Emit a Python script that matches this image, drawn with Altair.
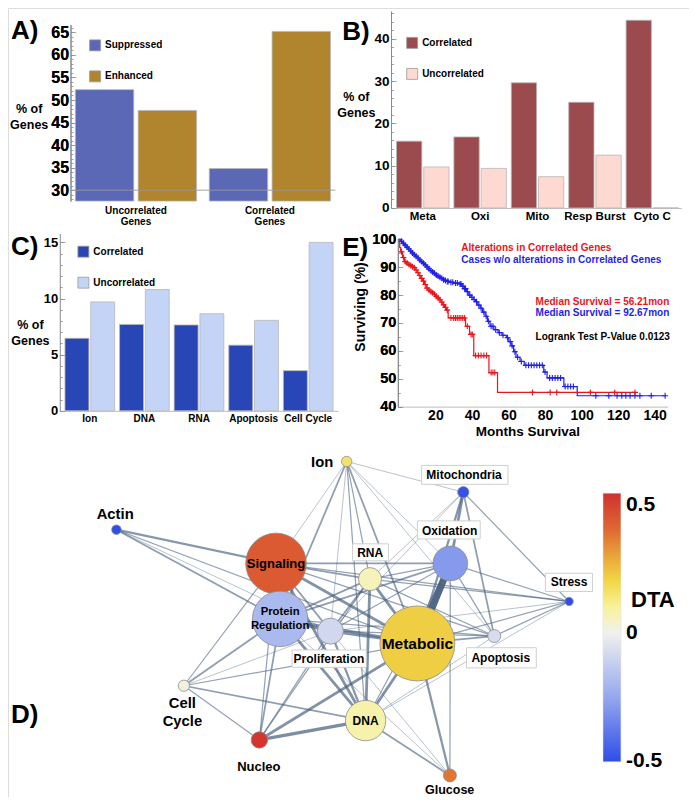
import math
import altair as alt
import pandas as pd

W, H = 681, 789
KX, KY = W / 697, H / 805
FONT = "Liberation Sans"


def X(v):
    return round(v * KX, 2)


def Y(v):
    return round(v * KY, 2)


# ---------------- data ----------------
a_groups = ["Uncorrelated Genes", "Correlated Genes"]
a_kinds = ["Suppressed", "Enhanced"]
a_suppressed = [52.3, 34.8]
a_enhanced = [47.7, 65.2]

b_groups = ["Meta", "Oxi", "Mito", "Resp Burst", "Cyto C"]
b_kinds = ["Correlated", "Uncorrelated"]
b_correlated = [15.8, 16.8, 29.6, 25.0, 44.4]
b_uncorrelated = [9.7, 9.35, 7.4, 12.5, 0.0]

c_groups = ["Ion", "DNA", "RNA", "Apoptosis", "Cell Cycle"]
c_kinds = ["Correlated", "Uncorrelated"]
c_correlated = [6.46, 7.7, 7.65, 5.85, 3.58]
c_uncorrelated = [9.7, 10.8, 8.65, 8.06, 15.0]

# Kaplan-Meier curves (months, % surviving)
red_t = [0, 0.5, 1, 2, 3, 4, 5, 6, 7, 8, 9, 10, 11, 12, 13, 14, 15, 16, 17, 18, 19, 20,
         21, 22, 23, 24, 25, 26, 27, 36.5, 38.7, 41, 49.3, 54, 129.2]
red_s = [100, 97, 95.5, 93.5, 92, 91.5, 91, 90.6, 90.2, 89.8, 89, 88, 87, 86, 85, 83.8,
         82.5, 81.8, 81.3, 80.8, 80.3, 79.6, 79, 78.3, 77.5, 76.5, 75.6, 74.6, 71.8,
         68.8, 65.9, 58.3, 52.2, 45.1, 45.1]
red_cens = [1.5, 2.5, 3.5, 4.5, 5.5, 6.5, 7.5, 8.5, 9.5, 10.5, 11.5, 12.5, 13.5, 14.5,
            15.5, 16.5, 17.5, 18.5, 19.5, 20.5, 21.5, 22.5, 23.5, 24.5, 25.5, 26.5, 28.5,
            30, 31, 32, 33, 34, 35, 36, 37.5, 39.5, 40.2, 42, 43.5, 45, 46.5, 48, 50.5,
            51.5, 52.5, 73.1, 82.8, 86.4, 104.8, 118.1, 129.2]
blue_t = [0, 1, 2, 3, 4, 5, 6, 7, 8, 9, 10, 11, 12, 13, 14, 15, 16, 17, 18, 19, 20, 21,
          22, 23, 24, 25, 26, 27.6, 30, 33, 34.5, 35.6, 37, 38.3, 39.5, 40.7, 41.9, 43.2,
          44.5, 45.8, 47.2, 48.5, 49.9, 52, 54.3, 56.5, 58.8, 60.2, 61.5, 62.8, 64.1,
          66.3, 68.6, 79.3, 81.1, 90.3, 97.6, 145.7]
blue_s = [100, 99.3, 98.6, 97.9, 97.2, 96.5, 95.8, 95.1, 94.5, 93.9, 93.3, 92.6, 92,
          91.4, 90.8, 90.1, 89.4, 88.8, 88.3, 87.8, 87.2, 86.8, 86.4, 86, 85.5, 85.2,
          84.9, 84.6, 84.3, 84, 83.2, 82.3, 81.2, 80, 79.2, 78.4, 77.6, 76.4, 75.3, 73.9,
          72.4, 70.6, 68.8, 67.6, 66.5, 65.6, 64.7, 63.3, 61.8, 59.7, 57.7, 56.2, 54.8,
          52.4, 50.3, 47.2, 43.9, 43.9]
blue_cens = [1.5, 2.5, 3.5, 4.5, 5.5, 6.5, 7.5, 8.5, 9.5, 10.5, 11.5, 12.5, 13.5, 14.5,
             15.5, 16.5, 17.5, 18.5, 19.5, 20.5, 21.5, 22.5, 23.5, 24.5, 25.5, 26.5, 27,
             28.5, 29.5, 31, 32, 33.5, 34, 35, 36, 36.5, 37.5, 38.8, 40, 41.2, 42.5, 43.8,
             45, 46.5, 47.8, 49, 50.5, 51.5, 53, 55, 57, 59.5, 61, 62, 63.5, 65, 67, 69.5,
             71, 72.5, 74, 75.5, 77, 78.5, 80, 82.5, 84, 85.5, 87, 88.5, 91, 92.5, 94,
             95.5, 107.8, 114.9, 119.4, 122, 124.2, 126.5, 129.2, 131.9, 138.1, 145.7]

# Network (positions in figure pixel space)
node_names = ["Ion", "Actin", "Signaling", "Protein Regulation", "RNA", "Mitochondria",
              "Oxidation", "Stress", "Metabolic", "Apoptosis", "Proliferation",
              "Cell Cycle", "Nucleo", "DNA", "Glucose"]
node_x = [346.7, 111, 274.3, 278.5, 370.5, 466, 452.7, 574.3, 419, 497.7, 330, 180,
          257.3, 366, 452.3]
node_y = [462.7, 532.3, 566.7, 623.3, 582.7, 494, 566.7, 605.5, 648.3, 640.8, 635.8,
          691.5, 746.8, 727, 783]
node_r = [6, 5.5, 35, 32, 13.3, 6.5, 20, 4.8, 43.3, 7.5, 15, 6.5, 9.5, 23.3, 7.5]
node_dta = [0.16, -0.5, 0.44, -0.19, 0.06, -0.49, -0.29, -0.5, 0.22, -0.07, -0.09,
            0.02, 0.53, 0.08, 0.38]

edges = [
    ("Ion", "Signaling", 1), ("Ion", "Protein Regulation", 2), ("Ion", "RNA", 1.5),
    ("Ion", "Proliferation", 1), ("Ion", "Metabolic", 2), ("Ion", "Oxidation", 1),
    ("Ion", "Mitochondria", 1), ("Ion", "Apoptosis", 1), ("Ion", "DNA", 1.5),
    ("Actin", "Signaling", 2.5), ("Actin", "Protein Regulation", 2),
    ("Actin", "Proliferation", 1), ("Actin", "Metabolic", 1.5),
    ("Signaling", "RNA", 2), ("Signaling", "Oxidation", 2), ("Signaling", "Metabolic", 3),
    ("Signaling", "Proliferation", 2), ("Signaling", "DNA", 3),
    ("Signaling", "Apoptosis", 1.5), ("Signaling", "Stress", 1.5),
    ("Signaling", "Cell Cycle", 1.5), ("Signaling", "Nucleo", 1.5),
    ("Protein Regulation", "RNA", 2), ("Protein Regulation", "Oxidation", 2),
    ("Protein Regulation", "Metabolic", 3), ("Protein Regulation", "Proliferation", 3.5),
    ("Protein Regulation", "DNA", 3), ("Protein Regulation", "Apoptosis", 1.5),
    ("Protein Regulation", "Cell Cycle", 2), ("Protein Regulation", "Nucleo", 2),
    ("Protein Regulation", "Glucose", 1),
    ("RNA", "Metabolic", 3), ("RNA", "Oxidation", 1.5), ("RNA", "Mitochondria", 1),
    ("RNA", "DNA", 3), ("RNA", "Proliferation", 2), ("RNA", "Apoptosis", 1.5),
    ("RNA", "Stress", 1.5), ("RNA", "Nucleo", 1.5),
    ("Mitochondria", "Oxidation", 3), ("Mitochondria", "Metabolic", 2.5),
    ("Mitochondria", "Stress", 1.5), ("Mitochondria", "Apoptosis", 2),
    ("Mitochondria", "Proliferation", 1),
    ("Oxidation", "Metabolic", 7), ("Oxidation", "Apoptosis", 1.5),
    ("Oxidation", "Stress", 1.5), ("Oxidation", "Glucose", 1.5), ("Oxidation", "DNA", 1.5),
    ("Oxidation", "Proliferation", 1.5),
    ("Stress", "Metabolic", 1.5), ("Stress", "Apoptosis", 1.5), ("Stress", "DNA", 1),
    ("Stress", "Proliferation", 1),
    ("Metabolic", "Apoptosis", 2), ("Metabolic", "Proliferation", 3),
    ("Metabolic", "DNA", 3), ("Metabolic", "Nucleo", 3), ("Metabolic", "Glucose", 2.5),
    ("Metabolic", "Cell Cycle", 1.5),
    ("Apoptosis", "DNA", 1), ("Apoptosis", "Proliferation", 1.5),
    ("Proliferation", "DNA", 2.5), ("Proliferation", "Nucleo", 1.5),
    ("Proliferation", "Cell Cycle", 1), ("Proliferation", "Glucose", 1),
    ("Cell Cycle", "Nucleo", 1.5), ("Cell Cycle", "DNA", 2),
    ("Nucleo", "DNA", 3.5), ("DNA", "Glucose", 2),
]

dta_stops = [-0.503, -0.25, 0, 0.1, 0.2, 0.3, 0.4, 0.545]
dta_colors = ["#2e4de6", "#95a8ee", "#f1f1ee", "#f8f29a", "#f1d846", "#eaa43a",
              "#df6a33", "#d0302f"]

RED = "#e8161c"
BLUE = "#1f1fe6"

# ---------------- helpers ----------------
NX = alt.Scale(domain=[0, 697], range=[0, W], nice=False, zero=False)
NY = alt.Scale(domain=[0, 805], range=[0, H], nice=False, zero=False)


def y_axis(ax_x, values, fs):
    return alt.Axis(orient="left", offset=-X(ax_x), values=values, title=None,
                    labelFontSize=fs, labelPadding=2, ticks=False, grid=False,
                    domainColor="#8a8a8a", labelFont=FONT, labelFontWeight="bold",
                    labelColor="black")


def x_axis(ax_y, fs, **kw):
    return alt.Axis(orient="bottom", offset=Y(ax_y) - H, title=None, labelFontSize=fs,
                    labelAngle=0, ticks=False, grid=False, domainColor="#bdbdbd",
                    labelFont=FONT, labelFontWeight="bold", labelColor="black", **kw)


def inner_ticks(df, field, ysc, ax_x, values, size):
    """Inward-pointing ticks drawn as an unlabeled right-oriented axis."""
    return alt.Chart(df).mark_point(opacity=0).encode(
        y=alt.Y(f"{field}:Q", scale=ysc,
                axis=alt.Axis(orient="right", offset=X(ax_x) - W, values=values,
                              labels=False, domain=False, tickSize=size,
                              tickColor="#8a8a8a", tickWidth=0.8, grid=False,
                              title=None)))


def sym_legend(lx, ly):
    return alt.Legend(orient="none", legendX=X(lx), legendY=Y(ly), title=None,
                      symbolType="square", symbolSize=120, symbolStrokeColor="#9a9a9a",
                      symbolStrokeWidth=0.8, symbolOpacity=1, labelFontSize=10,
                      labelFont=FONT, labelFontWeight="bold", labelColor="black",
                      labelOffset=4, rowPadding=15, padding=0)


def bar_panel(groups, kinds, v1, v2, colors, xr, pin, pout, ax_y, xfs, ax_x, ydom,
              ytop, yvals, yfs, minor_vals, legend_at, x_axis_kw, extra=()):
    df = pd.DataFrame({
        "group": groups * 2,
        "kind": [kinds[0]] * len(groups) + [kinds[1]] * len(groups),
        "value": v1 + v2,
    })
    ysc = alt.Scale(domain=ydom, range=[Y(ax_y), Y(ytop)], nice=False, zero=False)
    yax = y_axis(ax_x, yvals, yfs)
    bars = alt.Chart(df).mark_bar(stroke="#b8b8b8", strokeWidth=0.8).encode(
        x=alt.X("group:N", sort=groups,
                scale=alt.Scale(range=[X(xr[0]), X(xr[1])], paddingInner=pin,
                                paddingOuter=pout),
                axis=x_axis(ax_y, xfs, **x_axis_kw)),
        xOffset=alt.XOffset("kind:N", sort=kinds, scale=alt.Scale(paddingInner=0.07)),
        y=alt.Y("value:Q", scale=ysc, axis=yax),
        y2=alt.datum(ydom[0]),
        color=alt.Color("kind:N", sort=kinds, scale=alt.Scale(domain=kinds, range=colors),
                        legend=sym_legend(*legend_at)),
    )
    layers = [bars]
    for make in extra:
        layers.append(make(ysc, yax))
    layers.append(inner_ticks(df, "value", ysc, ax_x, yvals, 5))
    layers.append(inner_ticks(df, "value", ysc, ax_x, minor_vals, 2.5))
    return alt.layer(*layers).resolve_axis(y="independent")


def texts(labels, xs_, ys_, size, color="black", align="center", baseline="middle",
          angle=None, line_height=None):
    df = pd.DataFrame({"label": labels, "x": xs_, "y": ys_})
    mk = dict(fontSize=size, color=color, align=align, baseline=baseline,
              fontWeight="bold", font=FONT, lineBreak="\n")
    if angle is not None:
        mk["angle"] = angle
    if line_height is not None:
        mk["lineHeight"] = line_height
    return alt.Chart(df).mark_text(**mk).encode(
        x=alt.X("x:Q", scale=NX, axis=None),
        y=alt.Y("y:Q", scale=NY, axis=None),
        text="label:N",
    )


# ---------------- panel A ----------------
def rule30(ysc, yax):
    return alt.Chart(pd.DataFrame({"level": [30]})).mark_rule(
        color="#9a9a9a", strokeWidth=1.5, opacity=0.6).encode(
        y=alt.Y("level:Q", scale=ysc, axis=yax),
        x=alt.value(X(64)), x2=alt.value(X(335)))


panelA = bar_panel(
    a_groups, a_kinds, a_suppressed, a_enhanced, ["#5a68b6", "#b0852d"],
    (64, 335), 0.095, 0.036, 197, 10, 64, [27.6, 66.7], 17,
    [30, 35, 40, 45, 50, 55, 60, 65], 16, list(range(28, 67)), (83, 32),
    dict(domain=False, labelExpr="split(datum.label, ' ')", labelLineHeight=11.5,
         labelPadding=4), extra=(rule30,))

# ---------------- panel B ----------------
panelB = bar_panel(
    b_groups, b_kinds, b_correlated, b_uncorrelated, ["#9b4b4d", "#fdd9d1"],
    (395, 689), 0.085, 0.045, 204, 11.5, 392, [0, 46.6], 3,
    [0, 10, 20, 30, 40], 13.5, list(range(0, 47, 2)), (407.5, 29.5),
    dict(labelPadding=3))

# ---------------- panel C ----------------
panelC = bar_panel(
    c_groups, c_kinds, c_correlated, c_uncorrelated, ["#2946b6", "#c3d4f7"],
    (53, 338), 0.09, 0.095, 411, 10, 53, [0, 15.8], 230,
    [0, 5, 10, 15], 13, list(range(0, 16)), (71, 242.5), dict(labelPadding=3))


# ---------------- panel E ----------------
def step_at(ts, ss, t):
    val = ss[0]
    for ti, si in zip(ts, ss):
        if ti <= t:
            val = si
    return val


dfE = pd.concat([
    pd.DataFrame({"t": blue_t, "s": blue_s, "series": "without"}),
    pd.DataFrame({"t": red_t, "s": red_s, "series": "altered"}),
])
dfCens = pd.concat([
    pd.DataFrame({"t": blue_cens, "s": [step_at(blue_t, blue_s, t) for t in blue_cens],
                  "series": "without"}),
    pd.DataFrame({"t": red_cens, "s": [step_at(red_t, red_s, t) for t in red_cens],
                  "series": "altered"}),
])
xsE = alt.Scale(domain=[0, 147], range=[X(400), X(675)], nice=False, zero=False)
ysE = alt.Scale(domain=[40, 100.35], range=[Y(406.7), Y(235)], nice=False, zero=False)
xaxE = x_axis(406.7, 14, values=[20, 40, 60, 80, 100, 120, 140], labelPadding=2)
yaxE = y_axis(399, [40, 50, 60, 70, 80, 90, 100], 14.5)
colE = alt.Color("series:N", scale=alt.Scale(domain=["without", "altered"],
                                             range=[BLUE, RED]), legend=None)
linesE = alt.Chart(dfE).mark_line(interpolate="step-after", strokeWidth=1.2).encode(
    x=alt.X("t:Q", scale=xsE, axis=xaxE),
    y=alt.Y("s:Q", scale=ysE, axis=yaxE),
    color=colE,
)
censE = alt.Chart(dfCens).mark_point(
    shape="M-1,0L1,0M0,-1L0,1", filled=False, strokeWidth=1.1, size=36, opacity=1).encode(
    x=alt.X("t:Q", scale=xsE, axis=xaxE),
    y=alt.Y("s:Q", scale=ysE, axis=yaxE),
    color=colE,
)
panelE = alt.layer(
    linesE, censE,
    inner_ticks(dfE, "s", ysE, 399, [40, 50, 60, 70, 80, 90, 100], 5),
    inner_ticks(dfE, "s", ysE, 399, list(range(40, 101, 5)), 2.5),
).resolve_axis(y="independent")

# ---------------- panel D (network) ----------------
pos = dict(zip(node_names, zip(node_x, node_y)))
edge_df = pd.DataFrame({
    "x": [pos[a][0] for a, b, w in edges],
    "y": [pos[a][1] for a, b, w in edges],
    "x2": [pos[b][0] for a, b, w in edges],
    "y2": [pos[b][1] for a, b, w in edges],
    "w": [w for a, b, w in edges],
}).sort_values("w")

edges_ch = alt.Chart(edge_df).mark_rule(color="#48607f").encode(
    x=alt.X("x:Q", scale=NX, axis=None),
    y=alt.Y("y:Q", scale=NY, axis=None),
    x2="x2:Q", y2="y2:Q",
    strokeWidth=alt.StrokeWidth("w:Q", scale=alt.Scale(domain=[1, 7], range=[0.7, 7]),
                                legend=None),
    opacity=alt.Opacity("w:Q", scale=alt.Scale(domain=[1, 7], range=[0.55, 0.95]),
                        legend=None),
)

box_labels = ["RNA", "Mitochondria", "Oxidation", "Stress", "Apoptosis", "Proliferation"]
box_x1 = [352.7, 423.3, 419, 550, 469.3, 290.7]
box_x2 = [389.3, 511.7, 483.3, 598.3, 540.7, 366.7]
box_y1 = [546.7, 466.7, 523.3, 576.7, 652.7, 655]
box_y2 = [564, 486, 541.7, 595.3, 673.3, 672.7]
boxes = alt.Chart(pd.DataFrame({"x": box_x1, "x2": box_x2, "y": box_y1, "y2": box_y2})
                  ).mark_rect(fill="white", stroke="#cfcfcf", strokeWidth=1).encode(
    x=alt.X("x:Q", scale=NX, axis=None), x2="x2:Q",
    y=alt.Y("y:Q", scale=NY, axis=None), y2="y2:Q")

node_df = pd.DataFrame({"name": node_names, "x": node_x, "y": node_y, "r": node_r,
                        "dta": node_dta})
nodes_ch = alt.Chart(node_df).mark_circle(stroke="#8c8c8c", strokeWidth=0.8,
                                          opacity=1).encode(
    x=alt.X("x:Q", scale=NX, axis=None),
    y=alt.Y("y:Q", scale=NY, axis=None),
    size=alt.Size("r:Q", scale=alt.Scale(type="pow", exponent=2, domain=[0, 45],
                                         range=[0, math.pi * (45 * KX) ** 2]),
                  legend=None),
    color=alt.Color("dta:Q", scale=alt.Scale(domain=dta_stops, range=dta_colors,
                                             interpolate="rgb", nice=False, zero=False),
                    legend=alt.Legend(
                        orient="none", direction="vertical", legendX=X(609),
                        legendY=Y(495), gradientLength=Y(769) - Y(495),
                        gradientThickness=X(627.3) - X(609), values=[-0.5, 0, 0.5],
                        labelExpr="datum.value == 0 ? '0' : (datum.value < 0 ? '-' : '') + format(abs(datum.value), '.1f')",
                        labelFontSize=21, labelFont=FONT, labelFontWeight="bold",
                        labelColor="black", labelOffset=5, labelOverlap=False,
                        title=None, gradientStrokeColor="#dddddd",
                        gradientStrokeWidth=0.5, padding=0)),
)

# multi-line texts: y is the centre of the first line
node_text_inner = [
    texts(["Signaling"], [274.3], [567], 13),
    texts(["Protein\nRegulation"], [278.5], [615.8], 11.3, line_height=14.3),
    texts(["Metabolic"], [419], [648.5], 15.5),
    texts(["DNA"], [366], [727.5], 12),
]
node_text_boxed = texts(box_labels,
                        [370.7, 466.7, 452, 574.3, 504.3, 328.5],
                        [556, 476.7, 533.3, 586, 662.7, 664.3], 12)
node_text_free = [
    texts(["Ion", "Actin"], [321.5, 109.7], [464, 517.3], 14.8),
    texts(["Cell\nCycle"], [178.5], [710], 14.8, line_height=18.3),
    texts(["Nucleo"], [256.7], [774], 13),
    texts(["Glucose"], [452], [797.5], 12.5),
]

# ---------------- annotations ----------------
letters = texts(["A)", "B)", "C)", "E)", "D)"], [3, 342, 3, 342, 3],
                [32, 33, 252, 253, 729], 26, align="left", baseline="alphabetic")
ylabels = texts(["% of\nGenes", "% of\nGenes", "% of\nGenes"], [21.7, 356.5, 23],
                [103.3, 91, 323], 12.5, line_height=16)
e_red = texts(["Alterations in Correlated Genes", "Median Survival = 56.21mon"],
              [464, 540], [244.7, 299.7], 10, color=RED, align="left")
e_blue = texts(["Cases w/o alterations in Correlated Genes", "Median Survival = 92.67mon"],
               [464, 540], [257.3, 311.3], 10, color=BLUE, align="left")
e_black = texts(["Logrank Test P-Value 0.0123"], [540], [335.3], 10, align="left")
e_titles = [
    texts(["Surviving (%)"], [361], [305], 14, angle=270),
    texts(["Months Survival"], [532], [433], 13.5),
]
dta_title = texts(["DTA"], [660], [603.5], 22)

network = alt.layer(edges_ch, boxes, nodes_ch, *node_text_inner, node_text_boxed,
                    *node_text_free, letters, ylabels, e_red, e_blue, e_black,
                    *e_titles, dta_title)

chart = alt.layer(panelA, panelB, panelC, panelE, network).resolve_scale(
    x="independent", y="independent", color="independent", xOffset="independent",
    size="independent", opacity="independent", strokeWidth="independent",
).resolve_axis(x="independent", y="independent").resolve_legend(
    color="independent").properties(
    width=W, height=H, padding=0, autosize=alt.AutoSizeParams(type="none"),
).configure_view(stroke=None).configure(font=FONT)

chart.save("out.html", embed_options={"renderer": "svg", "actions": False})
